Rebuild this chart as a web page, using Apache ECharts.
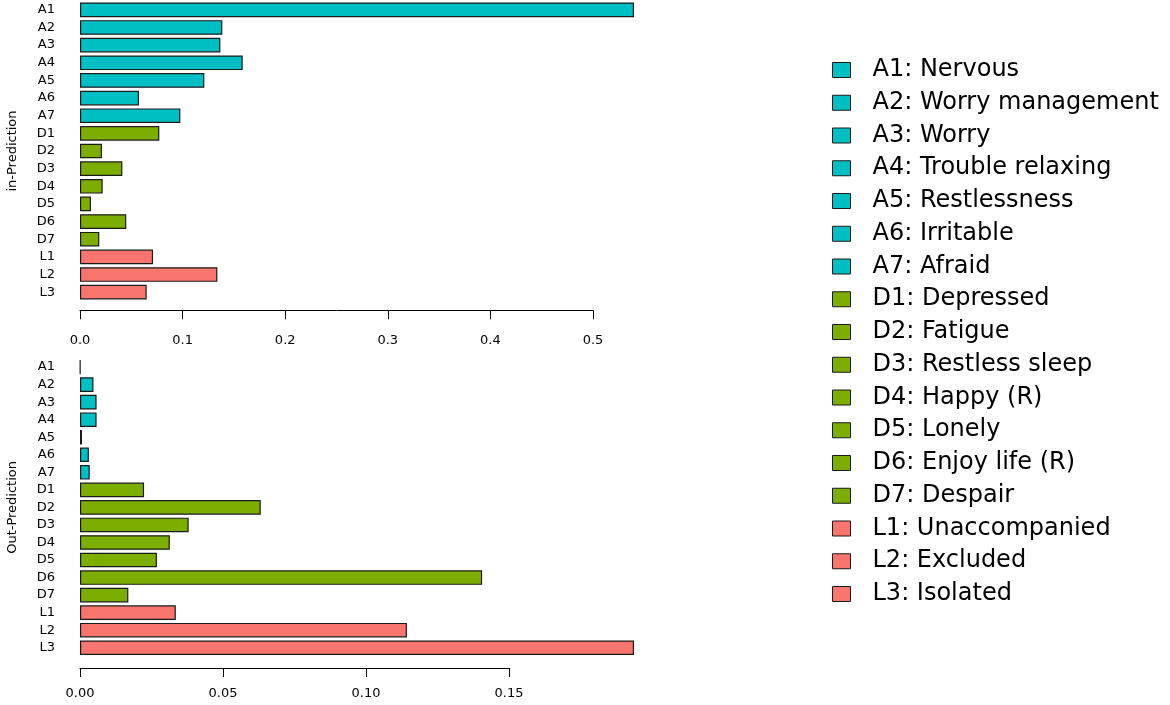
<!DOCTYPE html>
<html>
<head>
<meta charset="utf-8">
<script src="https://cdn.jsdelivr.net/npm/echarts@6/dist/echarts.min.js"></script>
<style>
html,body{margin:0;padding:0;background:#fff;}
#chart{width:1170px;height:705px;}
</style>
</head>
<body>
<div id="chart"></div>
<script>
// ---- data ----
const categories = ['A1','A2','A3','A4','A5','A6','A7','D1','D2','D3','D4','D5','D6','D7','L1','L2','L3'];
const itemNames = ['A1: Nervous','A2: Worry management','A3: Worry','A4: Trouble relaxing','A5: Restlessness','A6: Irritable','A7: Afraid','D1: Depressed','D2: Fatigue','D3: Restless sleep','D4: Happy (R)','D5: Lonely','D6: Enjoy life (R)','D7: Despair','L1: Unaccompanied','L2: Excluded','L3: Isolated'];
const inValues  = [0.540, 0.1387, 0.1368, 0.1586, 0.1212, 0.0575, 0.0978, 0.0773, 0.0214, 0.0413, 0.0221, 0.0107, 0.0451, 0.0188, 0.0712, 0.1339, 0.0650];
const outValues = [0.0001, 0.0047, 0.0058, 0.0058, 0.0007, 0.0031, 0.0034, 0.0224, 0.0632, 0.0380, 0.0314, 0.0269, 0.1406, 0.0169, 0.0335, 0.1143, 0.1937];
const panelNames = ['in-Prediction', 'Out-Prediction'];
const groupColors = {A: '#00BFC4', D: '#7CAE00', L: '#F8766D'};
const inTickStep = 0.1, inTickMax = 0.5;
const outTickStep = 0.05, outTickMax = 0.15;

// ---- chart ----
const FONT = 'DejaVu Sans';
const chart = echarts.init(document.getElementById('chart'), null, {renderer: 'canvas'});

function panelSeries(values, axisIdx, stackName) {
  return categories.map((c, i) => ({
    type: 'bar',
    name: itemNames[i],
    xAxisIndex: axisIdx,
    yAxisIndex: axisIdx,
    stack: stackName,
    barCategoryGap: '17%',
    itemStyle: {color: groupColors[c[0]], borderColor: '#1a1a1a', borderWidth: 1.2},
    emphasis: {disabled: true},
    data: categories.map((cc, j) => (j === i ? values[i] : '-'))
  }));
}

const hiddenValueAxis = (grid, max) => ({
  type: 'value', gridIndex: grid, min: 0, max: max,
  show: false, splitLine: {show: false}
});
const shownValueAxis = (grid, step, max, digits, margin) => ({
  type: 'value', gridIndex: grid, min: 0, max: max, interval: step,
  axisLine: {show: true, lineStyle: {color: '#000', width: 1}},
  axisTick: {show: true, length: 9, lineStyle: {color: '#000', width: 1}},
  axisLabel: {color: '#000', fontFamily: FONT, fontSize: 13, margin: margin,
              formatter: v => v.toFixed(digits)},
  splitLine: {show: false}
});
const catAxis = (grid, name) => ({
  type: 'category', gridIndex: grid, data: categories, inverse: true,
  axisLine: {show: false}, axisTick: {show: false},
  axisLabel: {color: '#000', fontFamily: FONT, fontSize: 13, margin: 25},
  name: name, nameLocation: 'middle', nameGap: 61, nameRotate: 90,
  nameTextStyle: {color: '#000', fontFamily: FONT, fontSize: 13}
});

const option = {
  animation: false,
  backgroundColor: '#fff',
  grid: [
    {left: 80, width: 554, top: 1, height: 300},
    {left: 80, width: 554, top: 358.3, height: 298.2},
    {left: 80, width: 513, top: 300, height: 10.3},
    {left: 80, width: 429, top: 660, height: 8}
  ],
  xAxis: [
    hiddenValueAxis(0, Math.max(...inValues)),
    hiddenValueAxis(1, Math.max(...outValues)),
    shownValueAxis(2, inTickStep, inTickMax, 1, 24),
    shownValueAxis(3, outTickStep, outTickMax, 2, 19)
  ],
  yAxis: [
    catAxis(0, panelNames[0]),
    catAxis(1, panelNames[1]),
    {type: 'value', gridIndex: 2, show: false},
    {type: 'value', gridIndex: 3, show: false}
  ],
  legend: {
    orient: 'vertical',
    left: 827, top: 53,
    data: itemNames,
    icon: 'rect',
    itemWidth: 18, itemHeight: 15,
    itemGap: 8.75,
    selectedMode: false,
    itemStyle: {borderColor: '#1a1a1a', borderWidth: 1},
    textStyle: {color: '#000', fontFamily: FONT, fontSize: 24, lineHeight: 24, padding: [0, 0, 0, 17]}
  },
  series: [].concat(panelSeries(inValues, 0, 'inp'), panelSeries(outValues, 1, 'outp'))
};
chart.setOption(option);
</script>
</body>
</html>
